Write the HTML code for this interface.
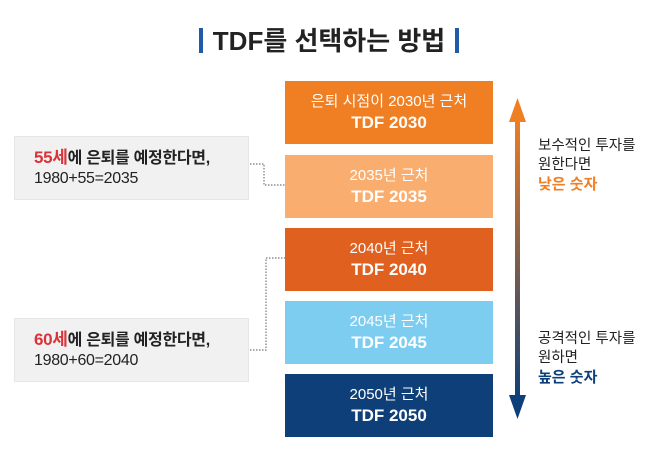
<!DOCTYPE html>
<html><head><meta charset="utf-8"><style>
body{margin:0;width:658px;height:463px;background:#fff;position:relative;overflow:hidden;font-family:"Liberation Sans","Noto Sans CJK KR",sans-serif}
.t{position:absolute;top:21px;left:0;width:658px;text-align:center;font-size:26px;font-weight:bold;color:#222}
.bar{display:inline-block;width:4px;height:25px;background:#1F5BA8;vertical-align:-3px;margin:0 10px}
.b{position:absolute;left:285px;width:208px;height:63px;color:#fff;text-align:center;font-size:15px;line-height:21px;box-sizing:border-box;padding-top:10px}
.b b{font-size:17px}
.l{position:absolute;left:14px;width:235px;height:64px;background:#f1f1f1;border:1px solid #e6e6e6;box-sizing:border-box;padding:11px 0 0 19px;font-size:16px;line-height:20px;color:#222;letter-spacing:-0.3px}
.l span{color:#d9343a;font-weight:bold;font-size:17px}
.l b{font-weight:bold}
.r{position:absolute;left:538px;font-size:14.5px;line-height:19px;color:#222}
.r b{font-size:15px}
</style></head><body>
<div class="t"><span class="bar"></span>TDF를 선택하는 방법<span class="bar"></span></div>
<div class="b" style="top:81px;background:#F07E22">은퇴 시점이 2030년 근처<br><b>TDF 2030</b></div>
<div class="b" style="top:155px;background:#F9AE70">2035년 근처<br><b>TDF 2035</b></div>
<div class="b" style="top:228px;background:#E06020">2040년 근처<br><b>TDF 2040</b></div>
<div class="b" style="top:301px;background:#7DCDF0">2045년 근처<br><b>TDF 2045</b></div>
<div class="b" style="top:374px;background:#0E3F78">2050년 근처<br><b>TDF 2050</b></div>
<div class="l" style="top:136px"><span>55세</span><b>에 은퇴를 예정한다면,</b><br>1980+55=2035</div>
<div class="l" style="top:318px"><span>60세</span><b>에 은퇴를 예정한다면,</b><br>1980+60=2040</div>
<svg style="position:absolute;left:0;top:0" width="658" height="463">
<defs><linearGradient id="g" x1="0" y1="0" x2="0" y2="1"><stop offset="0" stop-color="#F07E22"/><stop offset="1" stop-color="#0E3F78"/></linearGradient></defs>
<g stroke="#777" stroke-dasharray="1.5,1.5" fill="none" stroke-width="1.2">
<polyline points="250,164 264,164 264,185 285,185"/>
<polyline points="250,350 266,350 266,258 285,258"/>
</g>
<rect x="515" y="116" width="5" height="284" fill="url(#g)"/>
<polygon points="517.5,98 509,122 526,122" fill="#F07E22"/>
<polygon points="517.5,419 509,395 526,395" fill="#0E3F78"/>
</svg>
<div class="r" style="top:137px">보수적인 투자를<br>원한다면<br><b style="color:#F07E22">낮은 숫자</b></div>
<div class="r" style="top:330px">공격적인 투자를<br>원하면<br><b style="color:#0E3F78">높은 숫자</b></div>
</body></html>
